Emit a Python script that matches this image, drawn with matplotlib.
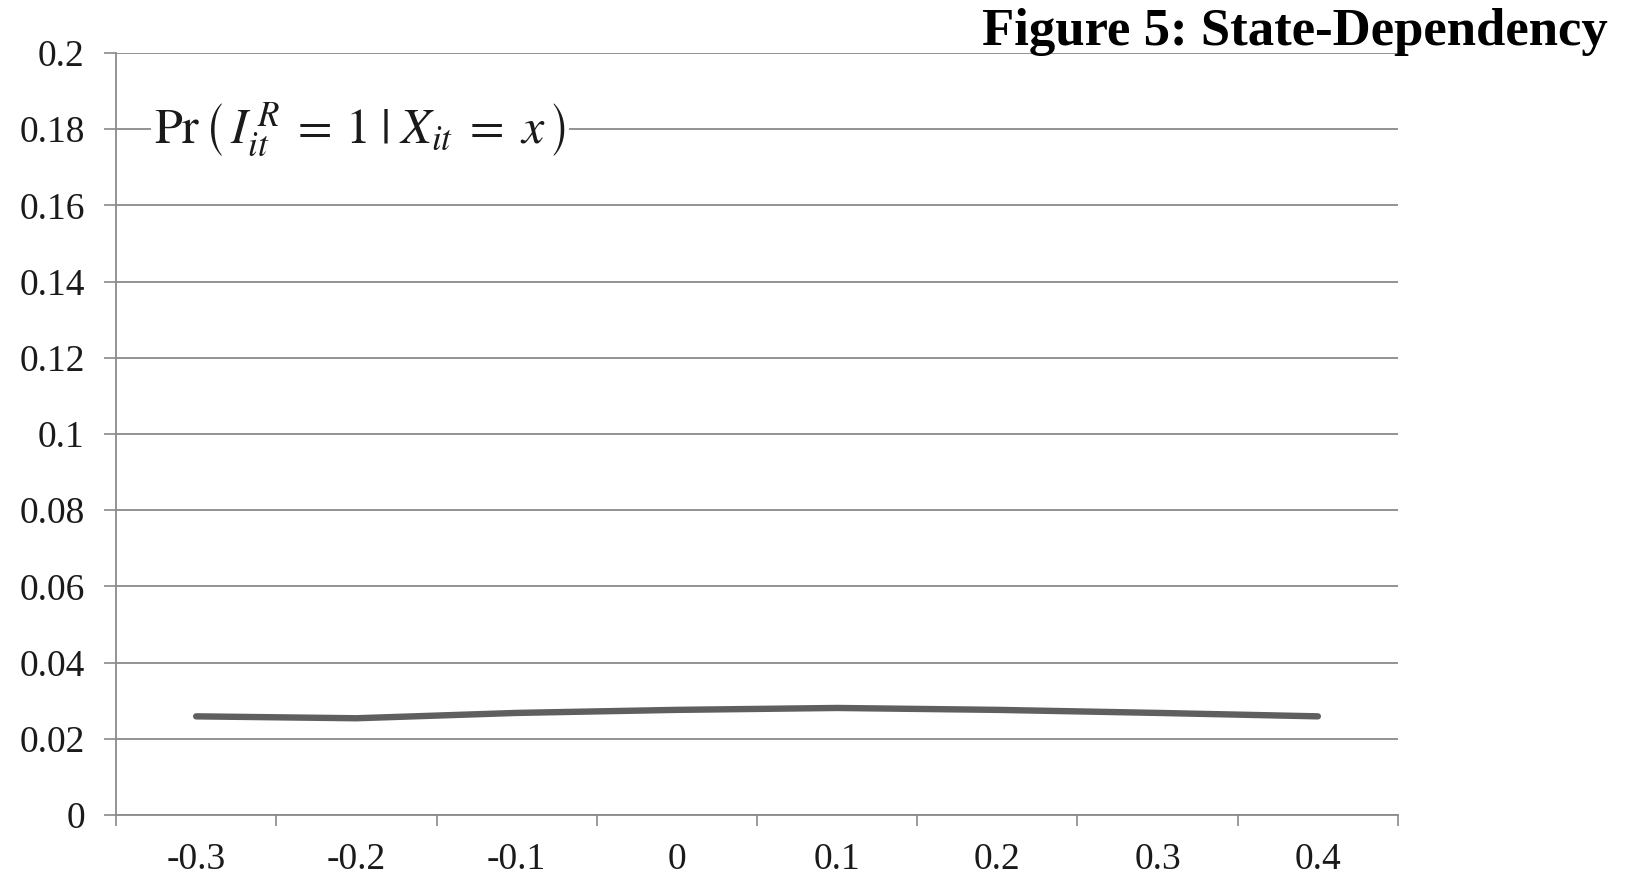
import numpy as np
import matplotlib
matplotlib.use("Agg")
import matplotlib.pyplot as plt

# values
categories = ["-0.3", "-0.2", "-0.1", "0", "0.1", "0.2", "0.3", "0.4"]
prob = [0.0259, 0.0254, 0.0268, 0.0276, 0.0281, 0.0276, 0.0268, 0.0259]
y_ticks = [0, 0.02, 0.04, 0.06, 0.08, 0.1, 0.12, 0.14, 0.16, 0.18, 0.2]
y_labels = ["0", "0.02", "0.04", "0.06", "0.08", "0.1", "0.12", "0.14", "0.16", "0.18", "0.2"]

plt.rcParams['font.family'] = ['Liberation Serif', 'DejaVu Serif']
plt.rcParams['mathtext.fontset'] = 'stix'

fig = plt.figure(figsize=(16.25, 8.76), dpi=100)
ax = fig.add_axes([0.0714, 0.0696, 0.7889, 0.8699])

grid_col = '#8a8a8a'
x = np.arange(len(categories))
ax.plot(x, prob, color='#5f5f5f', lw=4.6, solid_capstyle='round', zorder=3)

ax.set_xlim(-0.5, len(categories) - 0.5)
ax.set_ylim(0, 0.2)

# category axis: tick marks between categories, labels centred
ax.set_xticks(np.arange(len(categories) + 1) - 0.5)
ax.set_xticklabels([])
ax.set_xticks(x, minor=True)
ax.set_xticklabels(categories, minor=True)
ax.tick_params(axis='x', which='major', direction='out', length=8, width=1.2, color=grid_col)
ax.tick_params(axis='x', which='minor', length=0, pad=20, labelsize=27, labelcolor='#1a1a1a')

ax.set_yticks(y_ticks)
ax.set_yticklabels(y_labels)
ax.tick_params(axis='y', direction='out', length=8.5, width=1.2, color=grid_col,
               pad=14, labelsize=27, labelcolor='#1a1a1a')

ax.grid(axis='y', color=grid_col, lw=1.3, zorder=0)
ax.set_axisbelow(True)
for s in ['top', 'right']:
    ax.spines[s].set_visible(False)
for s in ['left', 'bottom']:
    ax.spines[s].set_color(grid_col)
    ax.spines[s].set_linewidth(1.3)

ax.text(0.03, 0.18, r'$\mathrm{Pr}\,\left(\,I_{it}^{\,R}\;=\,1\;|\;X_{it}\;=\;x\,\right)$',
        transform=ax.get_yaxis_transform(), fontsize=36, va='center', ha='left',
        color='#1a1a1a', bbox=dict(facecolor='white', edgecolor='none', pad=2), zorder=4)

fig.text(0.9895, 0.9485, 'Figure 5: State-Dependency', ha='right', va='baseline',
         fontsize=38, fontweight='bold', color='black')

fig.savefig('out.png', dpi=100)
